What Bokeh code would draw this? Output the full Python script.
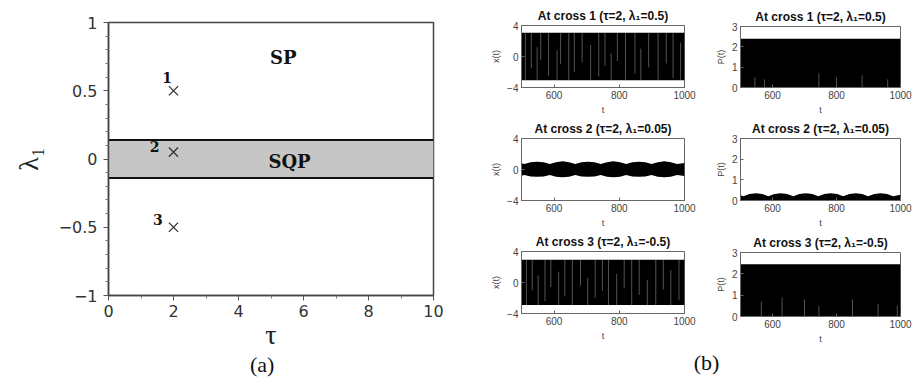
from bokeh.plotting import figure
from bokeh.layouts import row, column
from bokeh.models import Range1d, FixedTicker
from bokeh.core.properties import value
from bokeh.embed import file_html
from bokeh.resources import INLINE

# ---------------- data: panel (a) ----------------
tau_range = [0, 10]
lam_range = [-1, 1]
sqp_lower = -0.14
sqp_upper = 0.14
cross_tau = [2, 2, 2]
cross_lam = [0.5, 0.05, -0.5]
cross_ids = ["1", "2", "3"]
cross_label_tau = [1.8, 1.42, 1.52]
cross_label_lam = [0.6, 0.09, -0.445]
region_names = ["SP", "SQP"]
region_tau = [5.38, 5.57]
region_lam = [0.745, -0.02]
a_xticks = [0, 2, 4, 6, 8, 10]
a_xminor = [1, 3, 5, 7, 9]
a_yticks = [-1, -0.5, 0, 0.5, 1]
a_ylabels = ["\u22121", "\u22120.5", "0", "0.5", "1"]
a_yminor = [-0.9, -0.8, -0.7, -0.6, -0.4, -0.3, -0.2, -0.1,
            0.1, 0.2, 0.3, 0.4, 0.6, 0.7, 0.8, 0.9]

# ---------------- data: panel (b) ----------------
t_range = [500, 1000]
t_ticks = [600, 800, 1000]
x_ticks = [-4, 0, 4]
p_ticks = [0, 1, 2, 3]
titles = ["At cross 1 (\u03c4=2, \u03bb\u2081=0.5)",
          "At cross 2 (\u03c4=2, \u03bb\u2081=0.05)",
          "At cross 3 (\u03c4=2, \u03bb\u2081=-0.5)"]

# cross 1 : envelope of x(t) and P(t)
c1_t = [500, 1000]
x1_upper = [3.05, 3.05]
x1_lower = [-3.05, -3.05]
p1_upper = [2.4, 2.4]
x1_streak_t = [512, 530, 548, 559, 583, 609, 620, 645, 662, 686, 712, 737, 756, 775,
               794, 819, 848, 866, 890, 919, 944, 965, 988]
x1_streak_lo = [-3.0, -1.5, -3.0, -0.5, -2.5, -3.0, -1.0, -3.0, -2.0, -0.8, -3.0, -2.6, -1.2, -3.0,
                -0.6, -3.0, -2.2, -3.0, -1.4, -3.0, -0.9, -2.8, -3.0]
x1_streak_hi = [3.0, 3.0, 1.2, 3.0, 3.0, 0.8, 3.0, 3.0, 3.0, 3.0, 1.5, 3.0, 3.0, 0.4,
                3.0, 3.0, 3.0, 1.0, 3.0, 3.0, 3.0, 3.0, 1.8]
p1_streak_t = [545, 575, 745, 800, 880, 960]
p1_streak_hi = [0.5, 0.4, 0.7, 0.5, 0.6, 0.4]
# cross 2 : wavy envelopes
c2_t = [500, 509, 528, 548, 568, 587, 606, 626, 646, 665, 684, 704, 724, 743,
        762, 782, 802, 821, 840, 860, 880, 899, 918, 938, 958, 977, 1000]
x2_upper = [0.8, 0.7, 0.92, 1.0, 0.92, 0.7, 0.95, 1.05, 0.95, 0.7, 0.92, 1.0, 0.92, 0.7,
            0.95, 1.05, 0.95, 0.7, 0.92, 1.0, 0.92, 0.7, 0.95, 1.05, 0.95, 0.7, 0.85]
x2_lower = [-0.8, -0.7, -0.9, -0.95, -0.9, -0.7, -0.92, -1.0, -0.92, -0.7, -0.9, -0.95, -0.9, -0.7,
            -0.92, -1.0, -0.92, -0.7, -0.9, -0.95, -0.9, -0.7, -0.92, -1.0, -0.92, -0.7, -0.85]
p2_upper = [0.26, 0.2, 0.31, 0.35, 0.31, 0.2, 0.31, 0.35, 0.31, 0.2, 0.31, 0.35, 0.31, 0.2,
            0.31, 0.35, 0.31, 0.2, 0.31, 0.35, 0.31, 0.2, 0.31, 0.35, 0.31, 0.2, 0.28]
# cross 3
c3_t = [500, 1000]
x3_upper = [2.95, 2.95]
x3_lower = [-2.9, -2.9]
p3_upper = [2.45, 2.45]
x3_streak_t = [515, 533, 551, 572, 590, 614, 633, 656, 681, 703, 726, 748, 767, 792,
               815, 838, 861, 886, 912, 935, 958, 983]
x3_streak_lo = [-2.9, -1.0, -2.9, -2.4, -0.6, -2.9, -1.8, -2.9, -0.4, -2.9, -2.0, -1.1, -2.9, -2.9,
                -0.7, -2.9, -1.6, -2.9, -2.9, -0.9, -2.9, -2.3]
x3_streak_hi = [2.9, 2.9, 0.9, 2.9, 2.9, 1.4, 2.9, 2.9, 2.9, 0.6, 2.9, 2.9, 2.9, 1.1,
                2.9, 2.9, 2.9, 0.3, 2.9, 2.9, 1.6, 2.9]
p3_streak_t = [565, 630, 700, 745, 850, 930, 990]
p3_streak_hi = [0.7, 0.9, 0.8, 0.5, 0.8, 0.6, 0.5]

SANS = "Liberation Sans"
SERIF = "Liberation Serif"

# ---------------- panel (a) ----------------
pa = figure(width=478, height=352, x_range=Range1d(*tau_range), y_range=Range1d(*lam_range),
            output_backend="svg", toolbar_location=None,
            min_border_left=108, min_border_right=45, min_border_top=22, min_border_bottom=56)
pa.varea(x=tau_range, y1=[sqp_lower, sqp_lower], y2=[sqp_upper, sqp_upper], fill_color="#c6c6c6")
pa.line(x=tau_range, y=[sqp_upper, sqp_upper], line_color="#111111", line_width=2)
pa.line(x=tau_range, y=[sqp_lower, sqp_lower], line_color="#111111", line_width=2)
pa.scatter(x=cross_tau, y=cross_lam, marker="x", size=13, line_color="#333333", line_width=1.3)
pa.text(x=cross_label_tau, y=cross_label_lam, text=cross_ids, text_font=value("DejaVu Serif"),
        text_font_style="bold", text_font_size="14px", text_align="center", text_baseline="middle",
        text_color="#111111")
pa.text(x=region_tau, y=region_lam, text=region_names, text_font=value("DejaVu Serif"),
        text_font_style="bold", text_font_size="18px", text_align="center", text_baseline="middle",
        text_color="#111111")
pa.grid.visible = False
pa.outline_line_color = "#444444"
pa.outline_line_width = 1.5
pa.xaxis.ticker = FixedTicker(ticks=a_xticks, minor_ticks=a_xminor)
pa.yaxis.ticker = FixedTicker(ticks=a_yticks, minor_ticks=a_yminor)
pa.yaxis.major_label_overrides = dict(zip(a_yticks, a_ylabels))
for ax in (pa.xaxis[0], pa.yaxis[0]):
    ax.axis_line_color = "#444444"
    ax.axis_line_width = 1.5
    ax.major_tick_in = 0
    ax.major_tick_out = 5
    ax.minor_tick_in = 0
    ax.minor_tick_out = 3
    ax.major_tick_line_color = "#555555"
    ax.minor_tick_line_color = "#777777"
    ax.major_label_text_font = "DejaVu Sans"
    ax.major_label_text_font_size = "16px"
    ax.major_label_text_color = "#333333"
    ax.axis_label_text_font = SERIF
    ax.axis_label_text_font_style = "normal"
    ax.axis_label_text_font_size = "28px"
    ax.axis_label_text_color = "#222222"
pa.xaxis.major_label_standoff = 4
pa.yaxis.major_label_standoff = 6
pa.xaxis.axis_label = "\u03c4"
pa.yaxis.axis_label = "\u03bb\u2081"
pa.xaxis.axis_label_standoff = -1
pa.yaxis.axis_label_standoff = 12

capA = figure(width=478, height=29, x_range=Range1d(0, 478), y_range=Range1d(0, 29),
              output_backend="svg", toolbar_location=None, min_border=0,
              x_axis_type=None, y_axis_type=None)
capA.outline_line_color = None
capA.grid.visible = False
capA.text(x=[226], y=[17], text=["(a)"], text_font=value(SERIF), text_font_size="22px",
          text_align="center", text_baseline="middle", text_color="#111111")


# ---------------- panel (b) ----------------
def small(title, width, height, bl, br, bt, bb, yr, yticks, ylabel):
    p = figure(width=width, height=height, x_range=Range1d(*t_range), y_range=Range1d(*yr),
               output_backend="svg", toolbar_location=None,
               min_border_left=bl, min_border_right=br, min_border_top=bt, min_border_bottom=bb)
    p.title.text = title
    p.title.align = "center"
    p.title.text_font = SANS
    p.title.text_font_size = "12px"
    p.title.text_font_style = "bold"
    p.title.text_color = "#111111"
    p.title.standoff = 5
    p.grid.visible = False
    p.outline_line_color = "#666666"
    p.xaxis.ticker = FixedTicker(ticks=t_ticks)
    p.yaxis.ticker = FixedTicker(ticks=yticks)
    p.xaxis.axis_label = "t"
    p.yaxis.axis_label = ylabel
    for ax in (p.xaxis[0], p.yaxis[0]):
        ax.axis_line_color = "#666666"
        ax.major_tick_in = 3
        ax.major_tick_out = 0
        ax.minor_tick_in = 0
        ax.minor_tick_out = 0
        ax.major_tick_line_color = "#666666"
        ax.major_label_text_font = SANS
        ax.major_label_text_font_size = "10px"
        ax.major_label_text_color = "#444444"
        ax.axis_label_text_font = SANS
        ax.axis_label_text_font_style = "normal"
        ax.axis_label_text_font_size = "9px"
        ax.axis_label_text_color = "#444444"
        ax.axis_label_standoff = 3
        ax.major_label_standoff = 3
    return p


def streaks(p, ts, lo, hi):
    p.segment(x0=ts, y0=lo, x1=ts, y1=hi, line_color="#8a8a8a", line_width=1, line_alpha=0.6)


LW, RW = 234, 205
L1 = small(titles[0], LW, 117, 43, 28, 25, 28, [-4, 4], x_ticks, "x(t)")
L1.varea(x=c1_t, y1=x1_lower, y2=x1_upper, fill_color="black")
streaks(L1, x1_streak_t, x1_streak_lo, x1_streak_hi)
L2 = small(titles[1], LW, 113, 43, 28, 21, 30, [-4, 4], x_ticks, "x(t)")
L2.varea(x=c2_t, y1=x2_lower, y2=x2_upper, fill_color="black")
L3 = small(titles[2], LW, 120, 43, 28, 21, 37, [-4, 4], x_ticks, "x(t)")
L3.varea(x=c3_t, y1=x3_lower, y2=x3_upper, fill_color="black")
streaks(L3, x3_streak_t, x3_streak_lo, x3_streak_hi)

R1 = small(titles[0], RW, 117, 28, 17, 26, 28, [0, 3], p_ticks, "P(t)")
R1.varea(x=c1_t, y1=[0, 0], y2=p1_upper, fill_color="black")
streaks(R1, p1_streak_t, [0] * len(p1_streak_t), p1_streak_hi)
R2 = small(titles[1], RW, 113, 28, 17, 21, 30, [0, 3], p_ticks, "P(t)")
R2.varea(x=c2_t, y1=[0] * len(c2_t), y2=p2_upper, fill_color="black")
R3 = small(titles[2], RW, 120, 28, 17, 22, 34, [0, 3], p_ticks, "P(t)")
R3.varea(x=c3_t, y1=[0, 0], y2=p3_upper, fill_color="black")
streaks(R3, p3_streak_t, [0] * len(p3_streak_t), p3_streak_hi)

capB = figure(width=LW + RW, height=31, x_range=Range1d(0, LW + RW), y_range=Range1d(0, 31),
              output_backend="svg", toolbar_location=None, min_border=0,
              x_axis_type=None, y_axis_type=None)
capB.outline_line_color = None
capB.grid.visible = False
capB.text(x=[228], y=[19], text=["(b)"], text_font=value(SERIF), text_font_size="22px",
          text_align="center", text_baseline="middle", text_color="#111111")

layout = row(column(pa, capA),
             column(row(column(L1, L2, L3), column(R1, R2, R3)), capB))

open("out.html", "w").write(file_html(layout, INLINE))
